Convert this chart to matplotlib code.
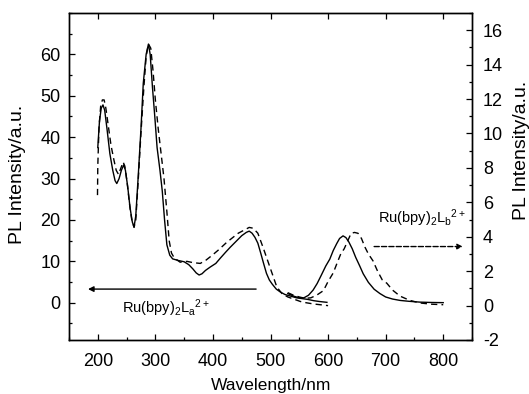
import matplotlib
matplotlib.use("Agg")
import matplotlib.pyplot as plt
from matplotlib.ticker import MultipleLocator

plt.rcParams['font.family'] = ['Liberation Sans', 'DejaVu Sans']
plt.rcParams['mathtext.fontset'] = 'custom'
plt.rcParams['mathtext.rm'] = 'Liberation Sans'
plt.rcParams['axes.unicode_minus'] = False

# ---- data (left axis) ----
la_x = [200, 203, 206, 209, 212, 216, 221, 226, 230, 233, 237, 241, 245, 248, 252, 256, 260, 263,
        266, 270, 275, 279, 284, 288, 291, 295, 299, 303, 308, 312, 316, 320, 325, 330, 340, 350,
        358, 365, 371, 376, 381, 387, 395, 405, 413, 422, 430, 440, 450, 458, 463, 468, 473, 478,
        483, 488, 493, 498, 503, 510, 517, 525, 535, 545, 555, 565, 575, 585, 598]
la_y = [37.5, 44, 47, 47.8, 46.5, 42, 36, 32, 29.5, 28.8, 30, 32, 33.3, 32, 28, 23, 19.5, 18.3,
        21, 30, 42, 53, 60, 62.5, 60, 52, 45, 37.5, 32, 27, 20, 14, 11.5, 10.6, 10.2, 9.9,
        9.2, 8.2, 7.2, 6.7, 7.0, 7.8, 8.6, 9.5, 10.8, 12.2, 13.4, 14.8, 16.2, 17.0, 17.3, 16.8, 15.8, 14.4,
        12.0, 9.5, 7.1, 5.5, 4.5, 3.3, 2.6, 2.0, 1.6, 1.2, 1.0, 0.8, 0.5, 0.3, 0.1]

lb_x = [199.5, 200, 202, 205, 208, 211, 214, 218, 223, 228, 232, 236, 240, 244, 247, 251, 255, 259,
        263, 266, 270, 275, 280, 284, 288, 292, 296, 300, 305, 310, 315, 320, 324, 328, 333, 343,
        355, 365, 378, 388, 399, 410, 424, 444, 455, 463, 470, 478, 487, 499, 511, 520, 530, 542,
        552, 562, 575, 588, 600]
lb_y = [26, 33, 42, 47.5, 49, 49, 47, 43, 38, 34.5, 32, 31, 32.5, 34, 33, 29, 24, 20,
        18.2, 20, 29, 41, 52, 59.5, 62.5, 61.5, 56, 49, 42, 36, 30, 22, 15, 12, 10.8, 9.8,
        10.0, 9.7, 9.5, 10.3, 11.5, 12.8, 14.6, 16.8, 17.6, 18.2, 18.0, 16.8, 13.4, 8.6, 3.8, 2.2, 1.4, 0.8,
        0.3, 0.0, -0.3, -0.5, -0.7]

# ---- data (right axis) ----
ra_x = [530, 540, 550, 558, 566, 574, 581, 588, 596, 603, 609, 615, 620, 626, 631, 636, 642, 648,
        655, 661, 670, 680, 690, 700, 712, 725, 740, 760, 780, 800]
ra_y = [0.7, 0.55, 0.45, 0.45, 0.6, 0.9, 1.28, 1.75, 2.3, 2.7, 3.2, 3.6, 3.9, 4.05, 3.95, 3.7, 3.3, 2.8,
        2.3, 1.85, 1.35, 0.95, 0.7, 0.5, 0.38, 0.3, 0.25, 0.2, 0.18, 0.17]

rb_x = [530, 540, 550, 560, 570, 580, 592, 600, 609, 616, 622, 628, 634, 640, 646, 652, 658, 664,
        670, 678, 686, 694, 702, 712, 725, 742, 760, 780, 800]
rb_y = [0.75, 0.6, 0.5, 0.42, 0.45, 0.6, 0.87, 1.4, 1.9, 2.5, 3.0, 3.3, 3.75, 4.2, 4.25, 4.2, 3.9, 3.4,
        3.0, 2.6, 2.0, 1.5, 1.3, 0.9, 0.55, 0.3, 0.15, 0.08, 0.05]

x_ticks = [200, 300, 400, 500, 600, 700, 800]
left_ticks = [0, 10, 20, 30, 40, 50, 60]
right_ticks = [-2, 0, 2, 4, 6, 8, 10, 12, 14, 16]

fig = plt.figure(figsize=(5.29, 3.94), dpi=100)
ax = fig.add_axes([69/529, 1-340/394, (472-69)/529, (340-13)/394])
ax2 = ax.twinx()

dash = (0, (4.5, 3))
ax.plot(la_x, la_y, color='black', lw=1.0)
ax.plot(lb_x, lb_y, color='black', lw=1.0, linestyle=dash)
ax2.plot(ra_x, ra_y, color='black', lw=1.0)
ax2.plot(rb_x, rb_y, color='black', lw=1.0, linestyle=dash)

ax.set_xlim(150, 850)
ax.set_ylim(-9, 70)
ax2.set_ylim(-2, 17)

ax.set_xticks(x_ticks)
ax.xaxis.set_minor_locator(MultipleLocator(50))
ax.set_yticks(left_ticks)
ax.yaxis.set_minor_locator(MultipleLocator(5))
ax2.set_yticks(right_ticks)
ax2.yaxis.set_minor_locator(MultipleLocator(1))

ax.tick_params(axis='x', which='both', direction='in', top=True, labelsize=13, pad=9)
ax.tick_params(axis='x', which='minor', top=False)
ax.tick_params(axis='y', which='both', direction='in', labelsize=13, pad=6)
ax2.tick_params(axis='y', which='both', direction='in', labelsize=13, pad=8)
for a in (ax, ax2):
    a.tick_params(which='major', length=4.5, width=0.9)
    a.tick_params(which='minor', length=2.5, width=0.9)
    for s in a.spines.values():
        s.set_linewidth(1.0)

fig.text(271/529, 4/394, 'Wavelength/nm', fontsize=12.5, ha='center', va='baseline')
fig.text(18/529, 1-174/394, 'PL Intensity/a.u.', fontsize=14, rotation=90, ha='center', va='center')
fig.text(522/529, 1-150/394, 'PL Intensity/a.u.', fontsize=14, rotation=90, ha='center', va='center')

# annotations
ax.annotate('', xy=(183, 3.3), xytext=(475, 3.3),
            arrowprops=dict(arrowstyle='-|>', color='black', lw=1.0,
                            mutation_scale=8, shrinkA=0, shrinkB=0))
ax.text(242, -1.3, r'$\mathregular{Ru(bpy)_2L_a{}^{2+}}$', fontsize=10.5, ha='left', va='center')
ax2.annotate('', xy=(834, 3.43), xytext=(680, 3.43),
             arrowprops=dict(arrowstyle='-|>', color='black', lw=1.0, linestyle='--',
                             mutation_scale=8, shrinkA=0, shrinkB=0))
ax2.text(687, 5.06, r'$\mathregular{Ru(bpy)_2L_b{}^{2+}}$', fontsize=10.5, ha='left', va='center')

fig.savefig('out.png', dpi=100)
